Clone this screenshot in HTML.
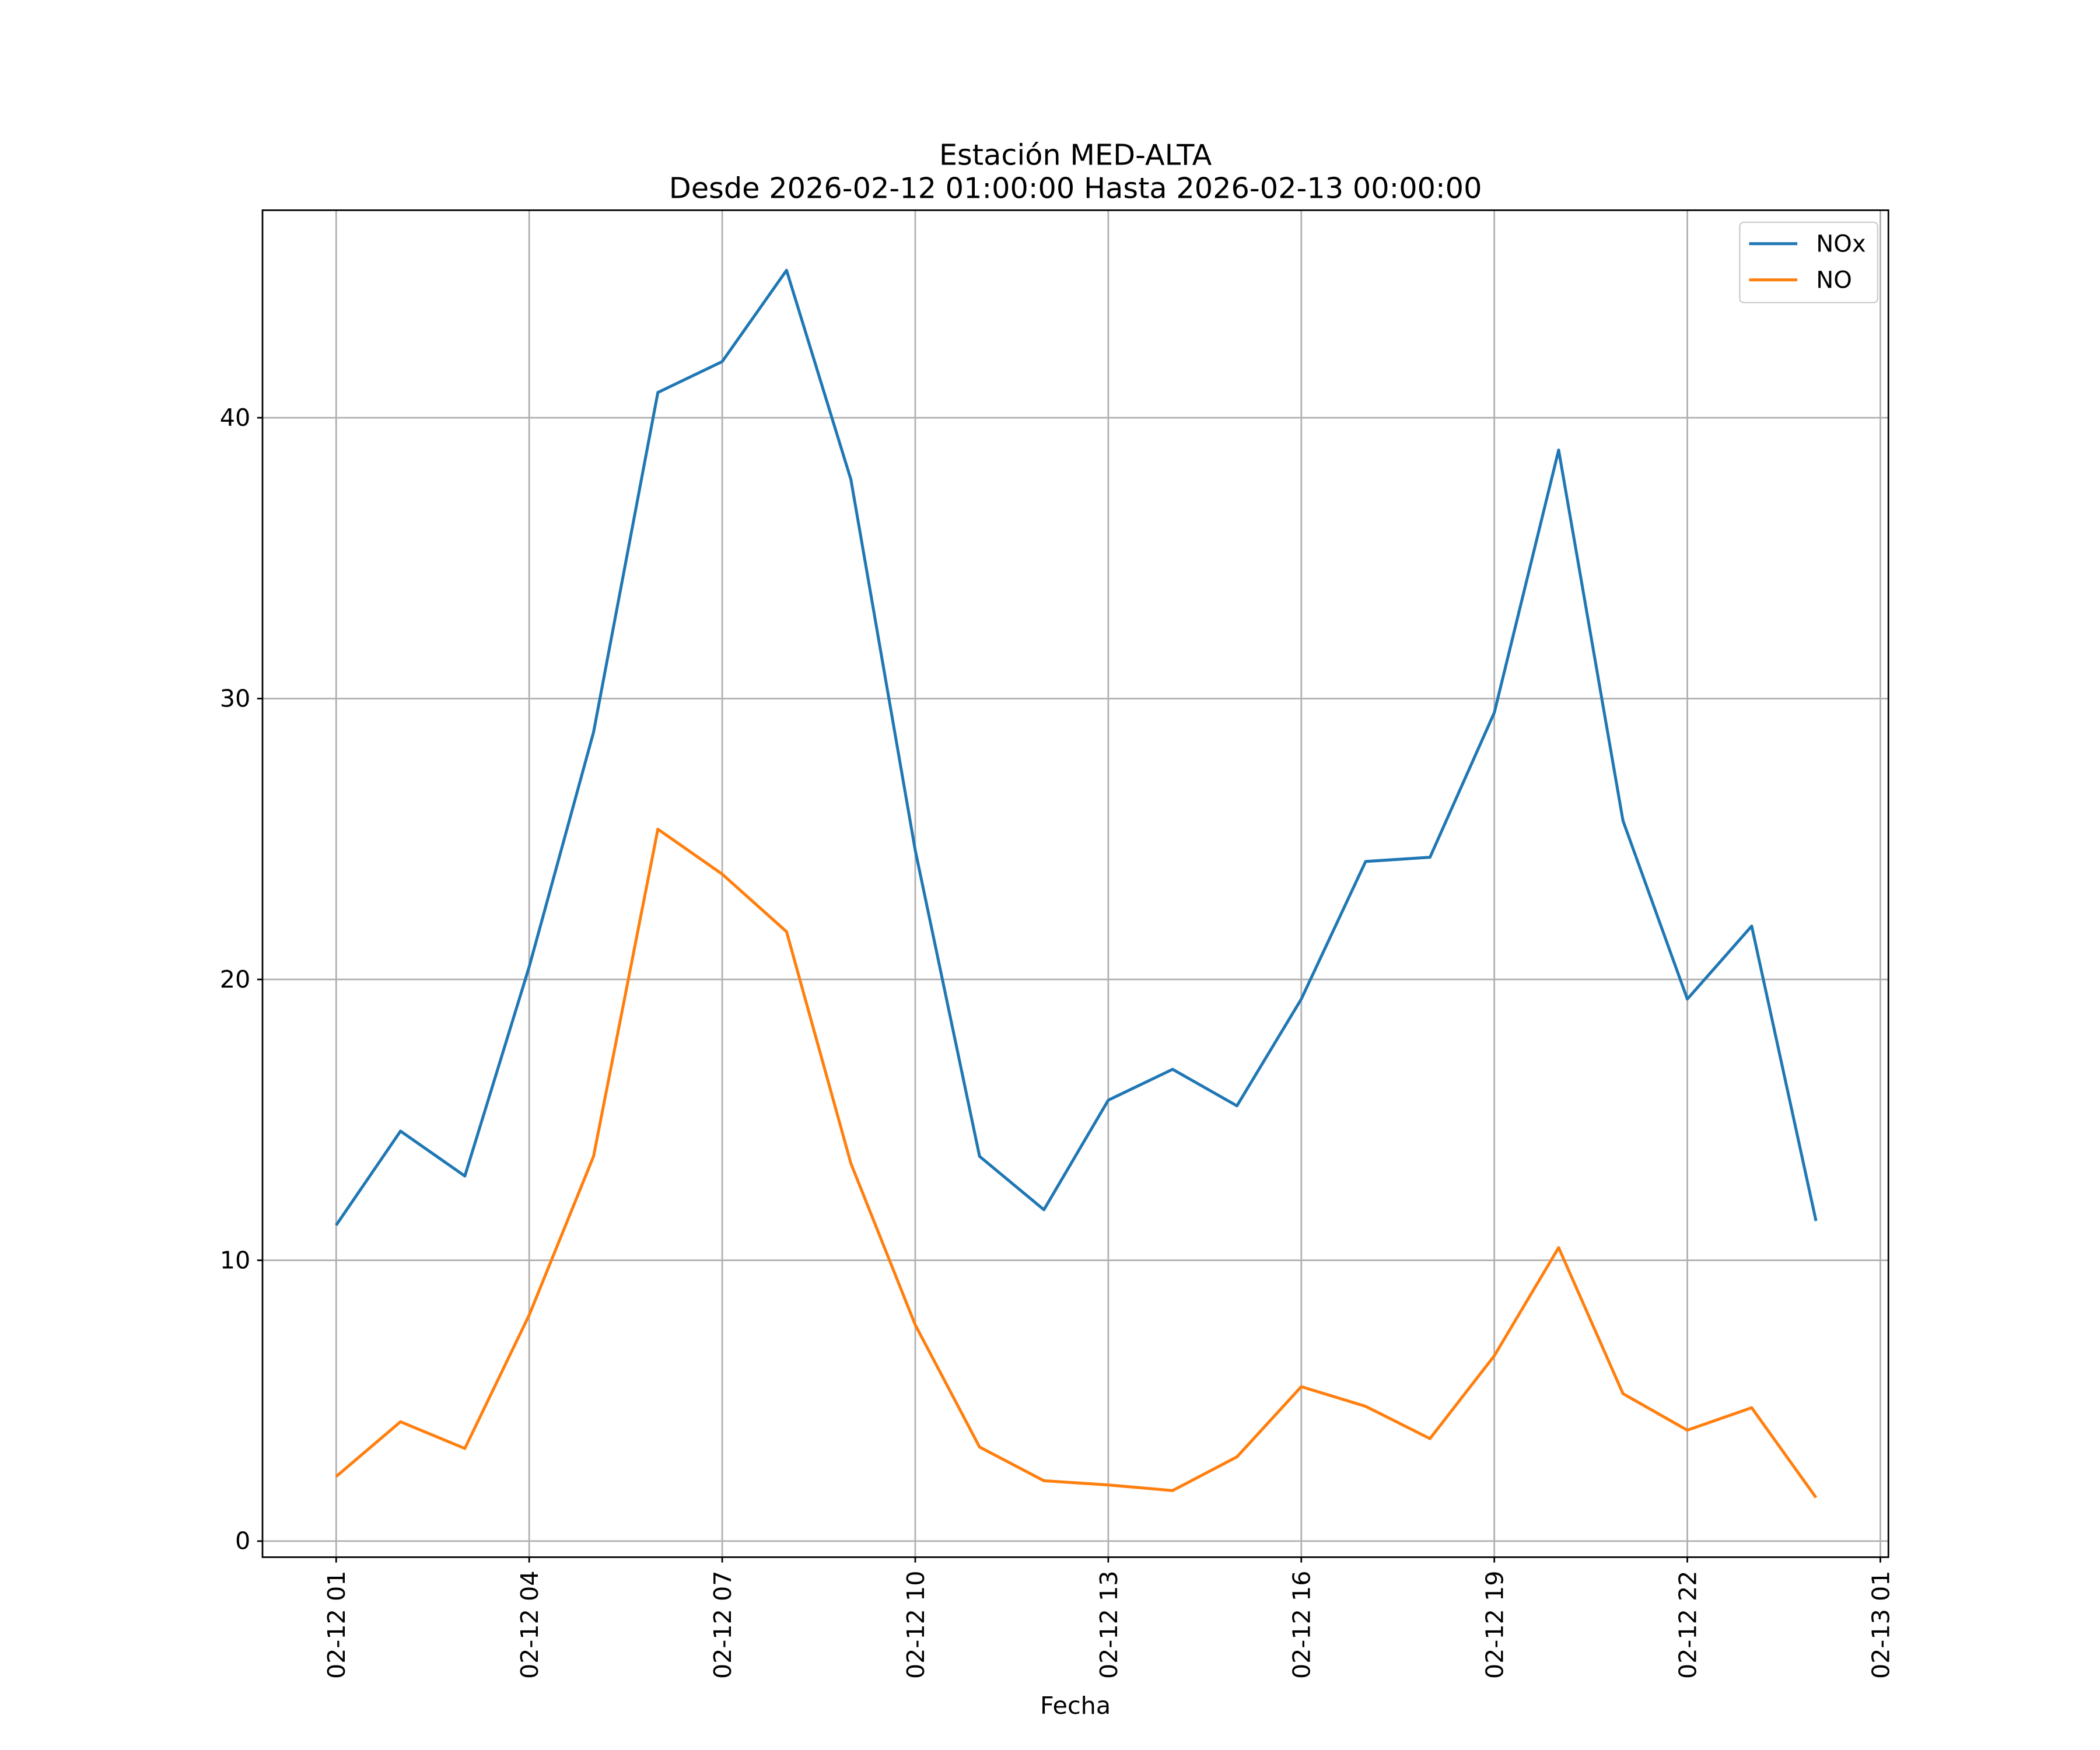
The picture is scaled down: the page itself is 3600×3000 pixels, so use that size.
<!DOCTYPE html>
<html><head><meta charset="utf-8"><style>
html,body{margin:0;padding:0;background:#fff;}
svg{display:block;}
text{font-family:"DejaVu Sans","Liberation Sans",sans-serif;fill:#000;}
</style></head><body>
<svg id="chart" width="3600" height="3000" viewBox="0 0 1568 1307" preserveAspectRatio="none" xmlns="http://www.w3.org/2000/svg">
<rect width="1600" height="1320" fill="#fff"/>
<text x="803" y="123" font-size="21.5" text-anchor="middle">Estación MED-ALTA</text>
<text x="803" y="148" font-size="21.5" text-anchor="middle">Desde 2026-02-12 01:00:00 Hasta 2026-02-13 00:00:00</text>
<g id="grid"></g>
<g id="series"></g>
<rect x="196" y="157" width="1214" height="1006" fill="none" stroke="#000" stroke-width="1.2"/>
<g id="axes"></g>
<text x="803" y="1280" font-size="18" text-anchor="middle">Fecha</text>
<g>
<rect x="1299" y="166" width="103" height="60" rx="3" fill="#fff" stroke="#ccc"/>
<line x1="1306" y1="182" x2="1342" y2="182" stroke="#1f77b4" stroke-width="2.2"/>
<text x="1356" y="188" font-size="17.5">NOx</text>
<line x1="1306" y1="209" x2="1342" y2="209" stroke="#ff7f0e" stroke-width="2.2"/>
<text x="1356" y="215" font-size="17.5">NO</text>
</g>
</svg>
<script>
const hours = [1,2,3,4,5,6,7,8,9,10,11,12,13,14,15,16,17,18,19,20,21,22,23,24];
const noxValues = [11.25,14.6,13.0,20.45,28.8,40.9,42.0,45.25,37.8,24.6,13.7,11.8,15.7,16.8,15.5,19.3,24.2,24.35,29.5,38.85,25.65,19.3,21.9,11.4];
const noValues = [2.3,4.25,3.3,8.05,13.7,25.35,23.75,21.7,13.45,7.7,3.35,2.15,2.0,1.8,3.0,5.5,4.8,3.65,6.6,10.45,5.25,3.95,4.75,1.55];
const yTicks = [0,10,20,30,40];
const xTickHours = [1,4,7,10,13,16,19,22,25];
const xTickLabels = ["02-12 01","02-12 04","02-12 07","02-12 10","02-12 13","02-12 16","02-12 19","02-12 22","02-13 01"];

const NS="http://www.w3.org/2000/svg";
const xs = h => 251 + (h-1)*(1153/24);
const ys = v => 1151 - v*20.975;
function mk(tag, attrs, parent){const e=document.createElementNS(NS,tag);for(const k in attrs)e.setAttribute(k,attrs[k]);parent.appendChild(e);return e;}
const grid=document.getElementById('grid'), axes=document.getElementById('axes'), series=document.getElementById('series');
yTicks.forEach(v=>{
  const y=ys(v);
  const g=mk('line',{x1:196,x2:1410,y1:y,y2:y,stroke:'#b0b0b0','stroke-width':1.2},grid);
  
  
  mk('line',{x1:192,x2:196,y1:y,y2:y,stroke:'#000','stroke-width':1.2},axes);
  const t=mk('text',{x:187,y:y+6,'font-size':18,'text-anchor':'end'},axes);
  t.textContent=v;
  
  
});
xTickHours.forEach((h,i)=>{
  const x=xs(h);
  const g=mk('line',{x1:x,x2:x,y1:157,y2:1163,stroke:'#b0b0b0','stroke-width':1.2},grid);
  
  
  mk('line',{x1:x,x2:x,y1:1163,y2:1167,stroke:'#000','stroke-width':1.2},axes);
  const t=mk('text',{x:0,y:0,'font-size':18,'text-anchor':'end',transform:`translate(${x+6.5},1173) rotate(-90)`},axes);
  t.textContent=xTickLabels[i];
  
  
});
function line(vals,color,name){
  const p=mk('polyline',{points:vals.map((v,i)=>xs(hours[i])+','+ys(v)).join(' '),fill:'none',stroke:color,'stroke-width':2.2,'stroke-linejoin':'round'},series);
  
  
}
line(noxValues,'#1f77b4','nox-line');
line(noValues,'#ff7f0e','no-line');
</script>
</body></html>
